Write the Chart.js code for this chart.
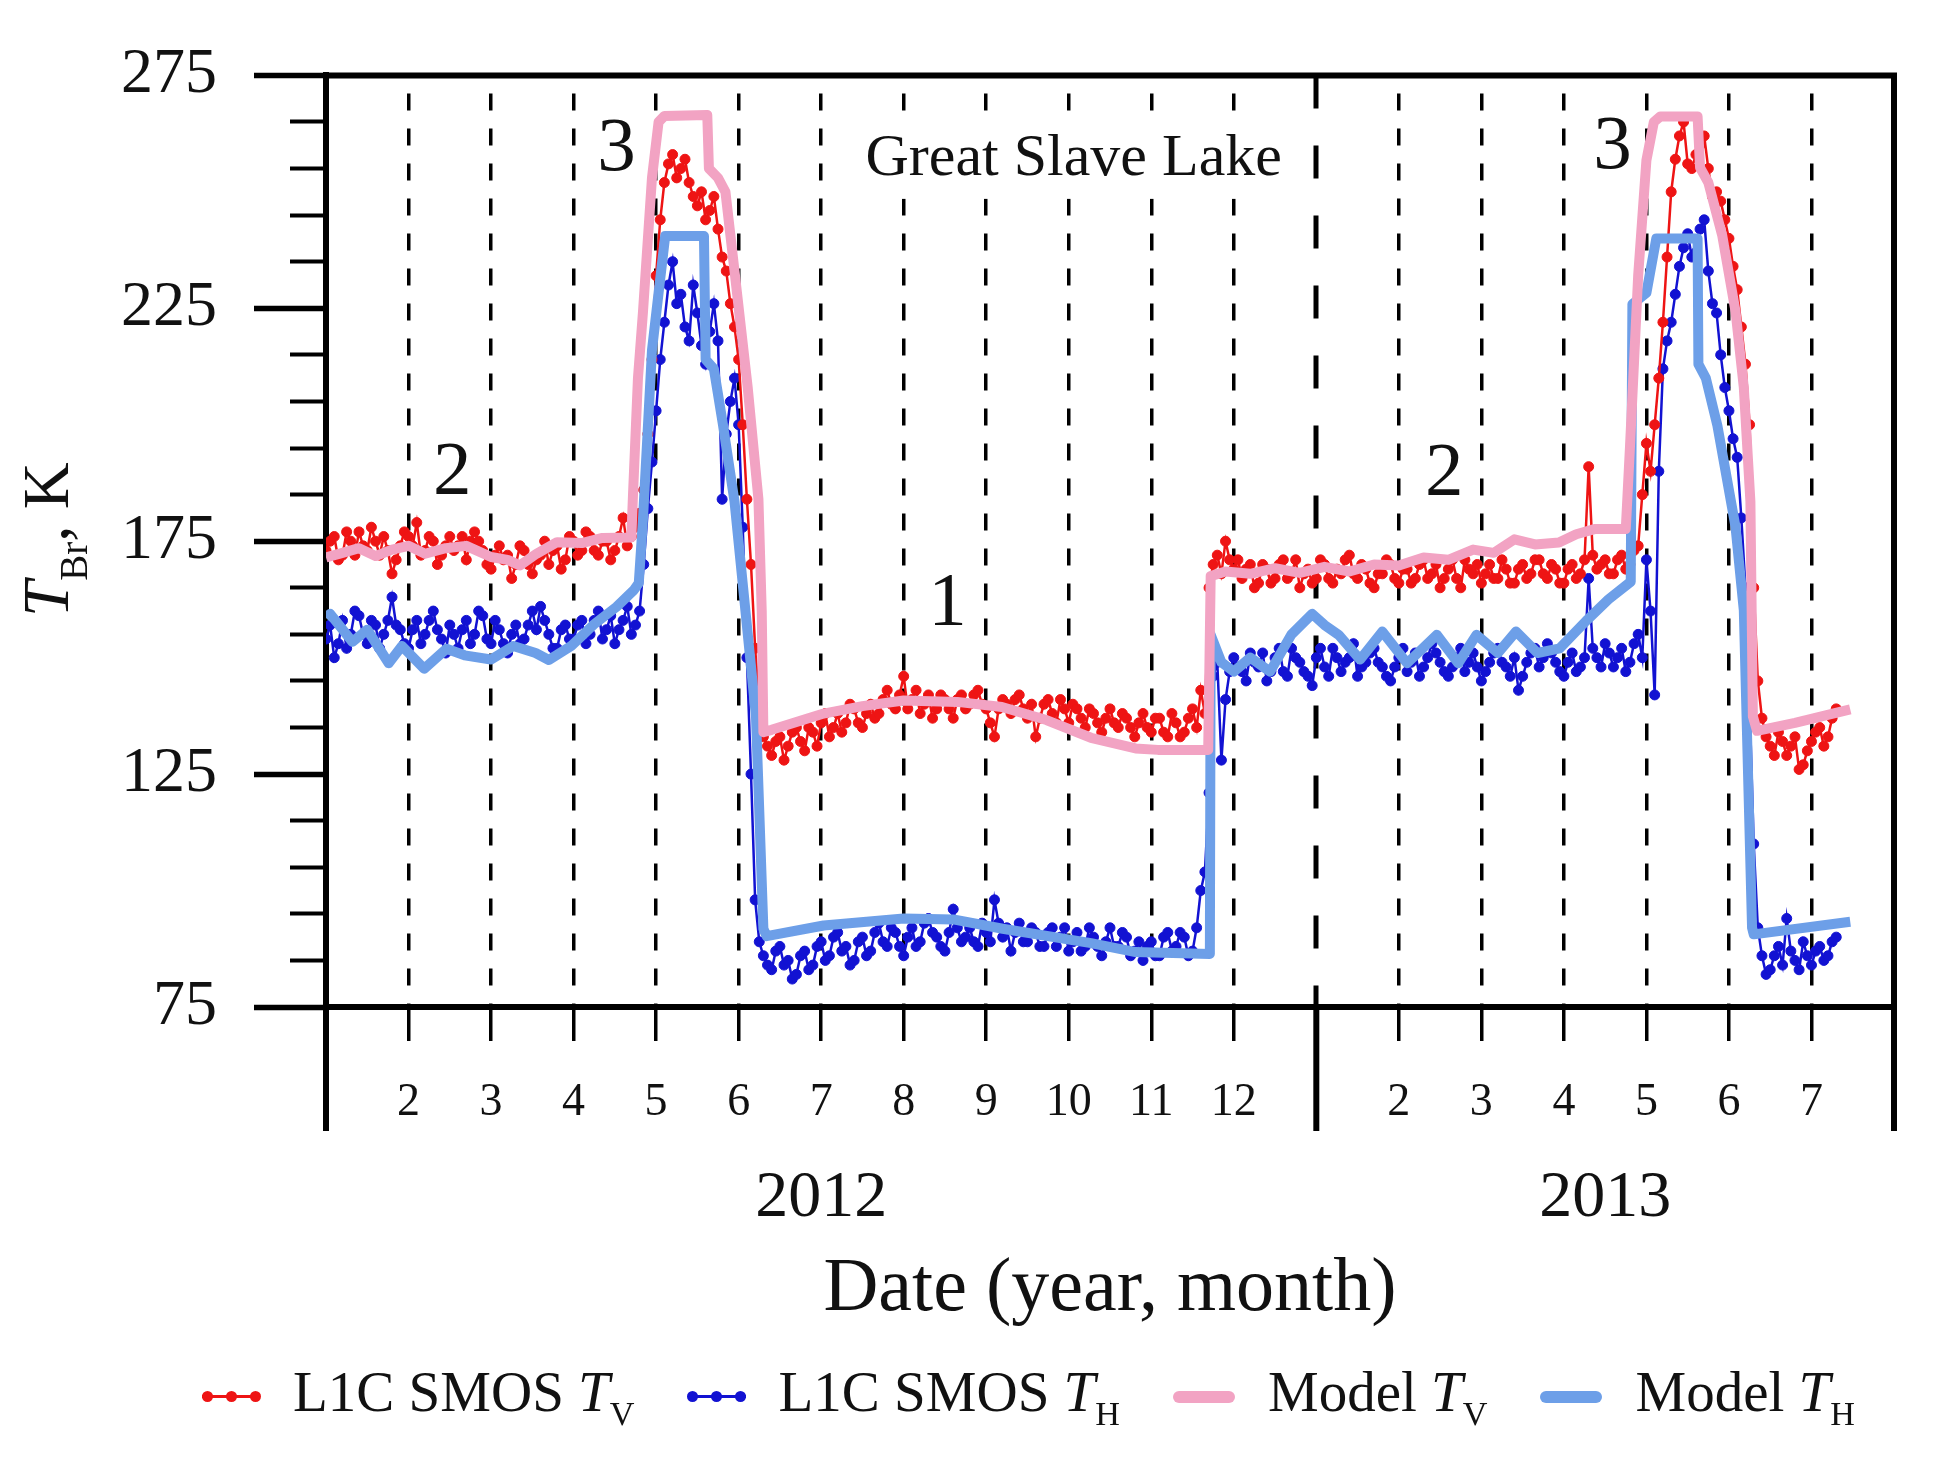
<!DOCTYPE html>
<html>
<head>
<meta charset="utf-8">
<title>Great Slave Lake</title>
<script src="https://cdn.jsdelivr.net/npm/chart.js"></script>
<style>
	html, body { margin: 0; background: #fff; }
	main { position: relative; width: 1941px; height: 1464px; overflow: hidden; font-family: "Liberation Serif", "Times New Roman", serif; color: #111; }
	#graf { position: absolute; left: 0; top: 0; }
	.ytitle { position: absolute; left: 0; top: 0; font-size: 65px; line-height: 1; white-space: nowrap; transform-origin: 0 0; transform: translate(14px, 617px) rotate(-90deg); }
	.ytitle .sub { font-size: 0.6em; position: relative; top: 19px; }
	.legend { position: absolute; left: 202px; top: 1363px; display: flex; align-items: center; gap: 53px; font-size: 57px; line-height: 1; white-space: nowrap; }
	.legend-card { display: flex; align-items: center; }
	.legend-card p { margin: 0; }
	.legend-card .sub { font-size: 0.6em; position: relative; top: 14px; }
	.mark { position: relative; width: 58px; height: 14px; margin-right: 33px; top: 5px; }
	.mark::before { content: ""; position: absolute; left: 0; right: 0; top: 50%; height: 3px; margin-top: -1.5px; background: var(--c); }
	.mark.band { width: 62px; }
	.mark.band::before { height: 12px; margin-top: -6px; border-radius: 6px; }
	.mark .dot { position: absolute; top: 50%; width: 11px; height: 11px; margin: -5.5px 0 0 -5.5px; border-radius: 50%; background: var(--c); }
</style>
</head>
<body>
<main>
	<canvas id="graf" width="1941" height="1464"></canvas>
	<div class="ytitle"><i>T</i><span class="sub">Br</span>, K</div>
	<div class="legend" id="legend"></div>
</main>
<script>
	// time axis: months counted from 1 Jan 2012, one SMOS sample every ~1.5 days
	const obsMonth = [
		0, 0.05, 0.1, 0.15, 0.2, 0.25, 0.3, 0.35, 0.4, 0.45, 0.5, 0.55, 0.6, 0.65, 0.7, 0.75, 0.8, 0.85, 0.9, 0.95,
		1, 1.05, 1.1, 1.15, 1.2, 1.25, 1.3, 1.35, 1.4, 1.45, 1.5, 1.55, 1.6, 1.65, 1.7, 1.75, 1.8, 1.85, 1.9, 1.95,
		2, 2.05, 2.1, 2.15, 2.2, 2.25, 2.3, 2.35, 2.4, 2.45, 2.5, 2.55, 2.6, 2.65, 2.7, 2.75, 2.8, 2.85, 2.9, 2.95,
		3, 3.05, 3.1, 3.15, 3.2, 3.25, 3.3, 3.35, 3.4, 3.45, 3.5, 3.55, 3.6, 3.65, 3.7, 3.75, 3.8, 3.85, 3.9, 3.95,
		4, 4.05, 4.1, 4.15, 4.2, 4.25, 4.3, 4.35, 4.4, 4.45, 4.5, 4.55, 4.6, 4.65, 4.7, 4.75, 4.8, 4.85, 4.9, 4.95,
		5, 5.05, 5.1, 5.15, 5.2, 5.25, 5.3, 5.35, 5.4, 5.45, 5.5, 5.55, 5.6, 5.65, 5.7, 5.75, 5.8, 5.85, 5.9, 5.95,
		6, 6.05, 6.1, 6.15, 6.2, 6.25, 6.3, 6.35, 6.4, 6.45, 6.5, 6.55, 6.6, 6.65, 6.7, 6.75, 6.8, 6.85, 6.9, 6.95,
		7, 7.05, 7.1, 7.15, 7.2, 7.25, 7.3, 7.35, 7.4, 7.45, 7.5, 7.55, 7.6, 7.65, 7.7, 7.75, 7.8, 7.85, 7.9, 7.95,
		8, 8.05, 8.1, 8.15, 8.2, 8.25, 8.3, 8.35, 8.4, 8.45, 8.5, 8.55, 8.6, 8.65, 8.7, 8.75, 8.8, 8.85, 8.9, 8.95,
		9, 9.05, 9.1, 9.15, 9.2, 9.25, 9.3, 9.35, 9.4, 9.45, 9.5, 9.55, 9.6, 9.65, 9.7, 9.75, 9.8, 9.85, 9.9, 9.95,
		10, 10.05, 10.1, 10.15, 10.2, 10.25, 10.3, 10.35, 10.4, 10.45, 10.5, 10.55, 10.6, 10.65, 10.7, 10.75, 10.8, 10.85, 10.9, 10.95,
		11, 11.05, 11.1, 11.15, 11.2, 11.25, 11.3, 11.35, 11.4, 11.45, 11.5, 11.55, 11.6, 11.65, 11.7, 11.75, 11.8, 11.85, 11.9, 11.95,
		12, 12.05, 12.1, 12.15, 12.2, 12.25, 12.3, 12.35, 12.4, 12.45, 12.5, 12.55, 12.6, 12.65, 12.7, 12.75, 12.8, 12.85, 12.9, 12.95,
		13, 13.05, 13.1, 13.15, 13.2, 13.25, 13.3, 13.35, 13.4, 13.45, 13.5, 13.55, 13.6, 13.65, 13.7, 13.75, 13.8, 13.85, 13.9, 13.95,
		14, 14.05, 14.1, 14.15, 14.2, 14.25, 14.3, 14.35, 14.4, 14.45, 14.5, 14.55, 14.6, 14.65, 14.7, 14.75, 14.8, 14.85, 14.9, 14.95,
		15, 15.05, 15.1, 15.15, 15.2, 15.25, 15.3, 15.35, 15.4, 15.45, 15.5, 15.55, 15.6, 15.65, 15.7, 15.75, 15.8, 15.85, 15.9, 15.95,
		16, 16.05, 16.1, 16.15, 16.2, 16.25, 16.3, 16.35, 16.4, 16.45, 16.5, 16.55, 16.6, 16.65, 16.7, 16.75, 16.8, 16.85, 16.9, 16.95,
		17, 17.05, 17.1, 17.15, 17.2, 17.25, 17.3, 17.35, 17.4, 17.45, 17.5, 17.55, 17.6, 17.65, 17.7, 17.75, 17.8, 17.85, 17.9, 17.95,
		18, 18.05, 18.1, 18.15, 18.2, 18.25, 18.3,
	];
	const smosTV = [
		// winter 2012
		173, 175, 176, 171, 172, 177, 175, 172, 177, 174, 173, 178, 175, 172, 176, 173, 168, 171, 174, 177,
		176, 174, 179, 172, 173, 176, 175, 170, 172, 174, 176, 173, 174, 176, 171, 175, 177, 175, 173, 170,
		169, 172, 174, 171, 172, 167, 170, 174, 173, 170, 168, 171, 172, 175, 170, 173, 174, 169, 171, 176,
		175, 172, 173, 177, 176, 173, 172, 175, 175, 171, 173, 176, 180, 174, 176,
		// melt 2012
		178, 181, 186, 198, 214,
		232, 244, 252, 256, 258, 253, 255, 257, 252, 249, 247, 250, 244, 246, 249, 242, 236, 233, 226, 221,
		214, 200, 184, 170, 152, 140, 133,
		// open water 2012
		131, 129, 132, 133, 128, 131, 134, 135, 132, 130, 135, 134, 131,
		136, 138, 133, 135, 138, 134, 136, 140, 139, 136, 135, 138, 140, 137, 138, 141, 143, 140, 139, 142,
		146, 139, 141, 143, 138, 140, 142, 137, 139, 142, 141, 139, 137, 141, 142, 139, 140, 142, 143, 140,
		139, 136, 133, 139, 141, 140, 138, 141, 142, 139, 137, 140, 133, 137, 140, 141, 138, 136, 141, 139,
		136, 140, 139, 137, 135, 139, 138, 136, 134, 137, 139, 136, 135, 138, 137, 135, 133, 136, 138, 135,
		134, 137, 137, 134, 133, 138, 136, 133, 134, 137, 139, 135, 143,
		// ice 2012-2013
		138, 165, 170, 172, 168, 175, 171, 169,
		171, 167, 169, 170, 165, 166, 170, 169, 166, 167, 170, 171, 167, 168, 171, 165, 168, 169, 166,
		167, 171, 170, 167, 166, 169, 168, 171, 172, 168, 167, 170, 169, 166, 165, 168, 168, 171, 170, 167,
		166, 169, 169, 166, 167, 170, 171, 167, 168, 170, 165, 167, 169, 171, 167, 165, 171, 169, 168, 170,
		166, 168, 170, 167, 167, 171, 169, 166, 166, 169, 170, 167, 168, 171, 171, 168, 167, 170, 169, 166,
		166, 169, 170, 167, 168, 171,
		// melt 2013
		191, 172, 169, 170, 171, 168, 168, 171, 172, 169, 170, 173, 174, 185,
		196, 190, 200, 210, 222, 236, 250, 257, 262, 265, 256, 255, 258, 260, 262, 255, 249, 250, 248, 244,
		240, 234, 229, 221, 213, 200, 165, 145, 137,
		// open water 2013
		133, 131, 129, 134, 132, 129, 131, 133, 126, 127, 130, 132, 134, 135, 131, 133, 137, 139,
	];
	const smosTH = [
		// winter 2012
		154, 157, 150, 153, 158, 152, 155, 160, 159, 155, 153, 158, 157, 152, 155, 158, 163, 157, 156, 153,
		152, 156, 158, 153, 155, 158, 160, 156, 154, 151, 157, 155, 152, 156, 158, 153, 155, 160, 159, 154,
		153, 158, 156, 153, 151, 155, 157, 153, 154, 157, 160, 156, 161, 158, 155, 152, 152, 156, 157, 154,
		154, 157, 158, 153, 155, 158, 160, 154, 156, 159, 153, 156, 158, 161, 155,
		// melt 2012
		157, 160, 170, 182, 192,
		203, 214, 222, 230, 235, 226, 228, 221, 218, 230, 224, 217, 213, 220, 226, 218, 184, 198, 205, 210,
		200, 178, 150, 125, 98, 89, 86,
		// open water 2012
		84, 83, 87, 88, 84, 85, 81, 82, 86, 87, 83, 84, 88,
		89, 85, 86, 90, 91, 87, 88, 84, 85, 89, 90, 86, 87, 91, 93, 89, 88, 92, 91, 88,
		86, 90, 92, 88, 89, 93, 94, 91, 90, 88, 87, 91, 96, 92, 89, 90, 92, 89, 88, 93,
		91, 89, 98, 93, 90, 92, 87, 91, 93, 89, 89, 92, 91, 88, 88, 91, 92, 88, 90, 92,
		87, 89, 91, 87, 88, 92, 90, 88, 86, 89, 92, 88, 88, 91, 90, 86, 87, 89, 85, 88,
		89, 86, 86, 90, 91, 87, 88, 91, 90, 86, 87, 92, 100,
		// ice 2012-2013
		104, 121, 146, 149, 128, 141, 147, 150,
		148, 147, 145, 151, 149, 148, 151, 145, 147, 150, 152, 147, 146, 152, 150, 149, 147, 146, 144,
		150, 152, 148, 146, 152, 150, 147, 149, 150, 153, 146, 148, 149, 151, 152, 149, 148, 146, 145, 148,
		150, 152, 147, 149, 151, 146, 148, 150, 153, 151, 149, 147, 146, 148, 150, 152, 147, 149, 151, 148,
		145, 147, 149, 151, 152, 149, 148, 146, 150, 143, 146, 149, 151, 152, 148, 150, 153, 151, 149, 147,
		146, 149, 151, 147, 148, 150,
		// melt 2013
		167, 152, 150, 148, 153, 151, 148, 150, 152, 147, 149, 153, 155, 150,
		171, 160, 142, 190, 212, 218, 222, 228, 234, 238, 241, 236, 237, 242, 244, 233, 226, 224, 215, 208,
		203, 197, 193, 180, 165, 140, 110, 92, 86,
		// open water 2013
		82, 83, 86, 88, 84, 94, 87, 85, 83, 89, 86, 84, 87, 88, 85, 86, 89, 90,
	];
	const modelTVMonth = [
		0, 0.2, 0.4, 0.6, 0.8, 1, 1.2, 1.45, 1.7, 2, 2.2, 2.35, 2.55, 2.8, 3.1, 3.35, 3.7,
		3.72, 3.78, 3.84, 3.95, 4.03, 4.1, 4.62, 4.64, 4.75, 4.84, 4.95, 5.11, 5.24, 5.28, 5.3,
		5.4, 5.7, 6.03, 6.5, 7, 7.65, 8.19, 8.73, 9.27, 9.81, 10.08, 10.69,
		10.72, 10.9, 11.2, 11.5, 11.8, 12.1, 12.4, 12.7, 13, 13.3, 13.6, 13.9, 14.15, 14.4, 14.65, 14.94, 15.15, 15.37, 15.75,
		15.8, 15.9, 16, 16.09, 16.17, 16.62, 16.65, 16.75, 16.92, 17.08, 17.18, 17.26, 17.29,
		17.34, 17.8, 18.47,
	];
	const modelTV = [
		171.5, 172.5, 173.5, 171.8, 173.2, 174, 172.3, 173.5, 174, 171.6, 171, 169.8, 172.3, 174.8, 174.6, 175.7, 175.8,
		185, 210, 224, 253, 265, 266.3, 266.5, 255, 253, 250, 233, 208, 184, 160, 134,
		134.5, 136.2, 138, 139.6, 140.8, 140.5, 139.4, 136.6, 132.8, 130.5, 130.2, 130.2,
		167.5, 168.5, 168, 169.2, 168.2, 169.5, 168.5, 170, 169.8, 171.5, 171, 173.2, 172.5, 175.4, 174.3, 174.7, 176.5, 177.6, 177.6,
		195, 232, 256.8, 265, 266.2, 266.2, 255.2, 252, 240.5, 224.3, 208, 183.5, 137.4,
		134.3, 136, 138.9,
	];
	const modelTHMonth = [
		0, 0.05, 0.32, 0.5, 0.76, 0.92, 1.19, 1.46, 1.68, 2, 2.27, 2.54, 2.7, 2.97, 3.25, 3.52, 3.73,
		3.79, 3.84, 3.95, 4.03, 4.11, 4.58, 4.6, 4.7, 4.81, 4.95, 5.21, 5.3,
		5.34, 6.03, 7, 7.6, 8.2, 9.27, 9.81, 10.71,
		10.72, 10.85, 11, 11.2, 11.44, 11.7, 11.95, 12.1, 12.27, 12.53, 12.8, 13.1, 13.46, 13.72, 13.94, 14.2, 14.42, 14.68, 14.95, 15.27, 15.54, 15.81,
		15.83, 16, 16.12, 16.62, 16.63, 16.72, 16.86, 17.08, 17.18, 17.28,
		17.3, 18.47,
	];
	const modelTH = [
		158.5, 159.4, 153.4, 156, 148.8, 152.5, 147.6, 151.9, 150.5, 149.6, 152.5, 151, 149.5, 152.5, 157.2, 160.9, 164.5,
		166, 179.4, 216, 228.3, 240.5, 240.5, 214, 212, 200, 183.5, 137.4, 91.8,
		90.2, 92.5, 94, 93.8, 91.8, 88.7, 86.8, 86.4,
		154.9, 149, 147, 150, 147, 155, 159.4, 157, 154.9, 149.6, 155.6, 148.8, 154.9, 148.8, 154.9, 151, 155.6, 151, 152, 157.9, 162.5, 166.3,
		225.9, 228.3, 240, 240, 213, 210, 199.8, 178, 160.2, 92,
		90.6, 93.3,
	];

	const yTickValues = [75, 85, 95, 105, 115, 125, 135, 145, 155, 165, 175, 185, 195, 205, 215, 225, 235, 245, 255, 265, 275];
	const yLabelValues = [75, 125, 175, 225, 275];
	const monthTickPos = [0, 1, 2, 3, 4, 5, 6, 7, 8, 9, 10, 11, 12, 13, 14, 15, 16, 17, 18, 19];
	const monthLabels = ["", "2", "3", "4", "5", "6", "7", "8", "9", "10", "11", "12", "", "2", "3", "4", "5", "6", "7", ""];
	const boxEdges = [0, 12, 19];
	const yearLabels = ["2012", "2013"];
	const yearCenters = [6, 15.5];
	const noteText = ["3", "2", "1", "2", "3"];
	const noteMonth = [3.52, 1.53, 7.53, 13.55, 15.59];
	const noteK = [259.1, 189.4, 161.3, 189.2, 259.5];
	const lakeName = "Great Slave Lake";
	const lakeAt = [9.06, 257.1];

	const serif = '"Liberation Serif", "Times New Roman", serif';
	Chart.defaults.font.family = serif;
	Chart.defaults.color = "#111";

	const red = "#ee1414";
	const blue = "#1212d2";
	const pink = "#f2a3c3";
	const sky = "#6d9fe8";

	function pairs(xs, ys) {
		return xs.map((x, i) => ({ x: x, y: ys[i] }));
	}

	const decorations = {
		id: "decorations",
		beforeDatasetsDraw(chart) {
			const { ctx, chartArea: area, scales: { x, y } } = chart;
			ctx.save();
			// start of 2013, long dashes
			const px = Math.round(x.getPixelForValue(boxEdges[1]));
			ctx.strokeStyle = "#000";
			ctx.lineWidth = 5;
			ctx.setLineDash([33, 37]);
			ctx.beginPath();
			ctx.moveTo(px, area.top);
			ctx.lineTo(px, area.bottom);
			ctx.stroke();
			// lake name sits on a white patch over the grid
			ctx.font = "60px " + serif;
			const lx = x.getPixelForValue(lakeAt[0]);
			const ly = y.getPixelForValue(lakeAt[1]);
			const w = ctx.measureText(lakeName).width;
			ctx.fillStyle = "#fff";
			ctx.fillRect(lx - w / 2 - 8, ly - 42, w + 16, 82);
			ctx.fillStyle = "#111";
			ctx.textAlign = "center";
			ctx.textBaseline = "middle";
			ctx.fillText(lakeName, lx, ly);
			ctx.restore();
		},
		afterDraw(chart) {
			const { ctx, chartArea: area, scales: { x, y } } = chart;
			ctx.save();
			ctx.strokeStyle = "#000";
			ctx.lineWidth = 6;
			ctx.beginPath();
			ctx.moveTo(area.left - 3, area.top);
			ctx.lineTo(area.right, area.top);
			ctx.lineTo(area.right, area.bottom + 124);
			ctx.stroke();
			boxEdges.forEach((v) => {
				const px = x.getPixelForValue(v);
				ctx.beginPath();
				ctx.moveTo(px, area.bottom);
				ctx.lineTo(px, area.bottom + 124);
				ctx.stroke();
			});
			ctx.fillStyle = "#111";
			ctx.textAlign = "center";
			ctx.textBaseline = "middle";
			ctx.font = "66px " + serif;
			yearLabels.forEach((t, i) => {
				ctx.fillText(t, x.getPixelForValue(yearCenters[i]), area.bottom + 192);
			});
			ctx.font = "77px " + serif;
			noteText.forEach((t, i) => {
				ctx.fillText(t, x.getPixelForValue(noteMonth[i]), y.getPixelForValue(noteK[i]));
			});
			ctx.restore();
		},
	};

	const hiddenMonth = (v) => boxEdges.includes(v);

	var graf = new Chart(document.getElementById("graf"), {
		type: "line",
		data: {
			datasets: [
				{
					label: "L1C SMOS T_V",
					data: pairs(obsMonth, smosTV),
					borderColor: red,
					backgroundColor: red,
					borderWidth: 2.5,
					pointRadius: 5,
					pointBorderWidth: 1,
					pointBorderColor: red,
					pointBackgroundColor: red,
					order: 1,
				},
				{
					label: "L1C SMOS T_H",
					data: pairs(obsMonth, smosTH),
					borderColor: blue,
					backgroundColor: blue,
					borderWidth: 2.5,
					pointRadius: 5,
					pointBorderWidth: 1,
					pointBorderColor: blue,
					pointBackgroundColor: blue,
					order: 1,
				},
				{
					label: "Model T_V",
					data: pairs(modelTVMonth, modelTV),
					borderColor: pink,
					backgroundColor: pink,
					borderWidth: 10,
					borderJoinStyle: "round",
					pointRadius: 0,
					order: 0,
				},
				{
					label: "Model T_H",
					data: pairs(modelTHMonth, modelTH),
					borderColor: sky,
					backgroundColor: sky,
					borderWidth: 10,
					borderJoinStyle: "round",
					pointRadius: 0,
					order: 0,
				},
			],
		},
		options: {
			responsive: false,
			animation: false,
			events: [],
			layout: { padding: { top: 68, right: 47, bottom: 0, left: 0 } },
			plugins: {
				legend: { display: false },
				tooltip: { enabled: false },
			},
			scales: {
				x: {
					type: "linear",
					min: 0,
					max: 19,
					afterBuildTicks: (s) => {
						s.ticks = monthTickPos.map((v) => ({ value: v }));
					},
					afterFit: (s) => {
						s.height = 457;
					},
					ticks: {
						autoSkip: false,
						maxRotation: 0,
						padding: 34,
						font: { size: 46 },
						color: "#111",
						callback: (v, i) => monthLabels[i],
					},
					grid: {
						drawOnChartArea: true,
						drawTicks: true,
						color: "#000",
						lineWidth: (c) => (c.tick && hiddenMonth(c.tick.value) ? 0 : 3.5),
						tickLength: 34,
						tickWidth: (c) => (c.tick && hiddenMonth(c.tick.value) ? 0 : 3.5),
						tickColor: "#000",
						tickBorderDash: [],
					},
					border: { display: true, width: 6, color: "#000", dash: [17, 18], dashOffset: 17 },
					title: {
						display: true,
						text: "Date (year, month)",
						font: { size: 76 },
						color: "#111",
						padding: { top: 0, bottom: 128 },
					},
				},
				y: {
					type: "linear",
					min: 75,
					max: 275,
					afterBuildTicks: (s) => {
						s.ticks = yTickValues.map((v) => ({ value: v }));
					},
					afterFit: (s) => {
						s.width = 326;
					},
					ticks: {
						autoSkip: false,
						padding: 37,
						font: { size: 64 },
						color: "#111",
						callback: (v) => (yLabelValues.includes(v) ? String(v) : ""),
					},
					grid: {
						drawOnChartArea: false,
						drawTicks: true,
						tickLength: 72,
						tickColor: "#000",
						tickWidth: (c) => (yLabelValues.includes(c.tick.value) ? 5.5 : 4),
						tickBorderDash: (c) => (yLabelValues.includes(c.tick.value) ? [] : [0, 36, 40]),
					},
					border: { display: true, width: 6, color: "#000" },
				},
			},
		},
		plugins: [decorations],
	});

	// legend with subscripts, built from the datasets
	const legendBox = document.getElementById("legend");
	for (let i = 0; i < graf.data.datasets.length; i++) {
		const ds = graf.data.datasets[i];
		const parts = ds.label.split("T_");
		const card = document.createElement("div");
		card.className = "legend-card";
		const isModel = ds.pointRadius === 0;
		card.innerHTML = `
			<span class="mark ${isModel ? "band" : ""}" style="--c: ${ds.borderColor}">
				${isModel ? "" : '<span class="dot" style="left:5px"></span><span class="dot" style="left:29px"></span><span class="dot" style="left:53px"></span>'}
			</span>
			<p>${parts[0]}<i>T</i><span class="sub">${parts[1]}</span></p>
		`;
		legendBox.appendChild(card);
	}
</script>
</body>
</html>
